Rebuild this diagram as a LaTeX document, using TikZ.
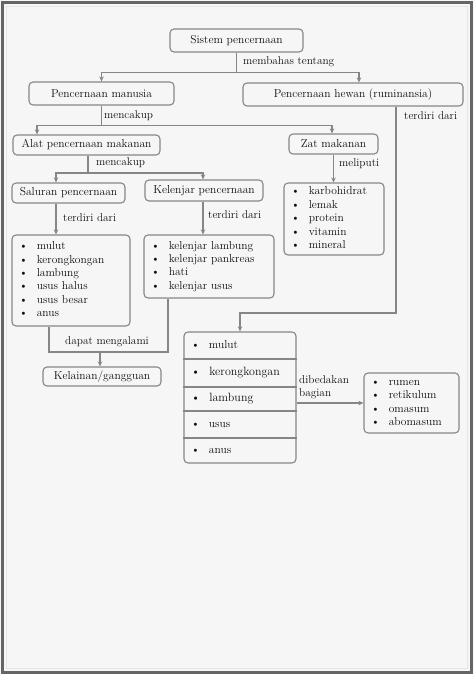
\documentclass[tikz,border=0pt]{standalone}
\usepackage{fontspec}
\usetikzlibrary{arrows.meta,calc}
\definecolor{bg}{HTML}{F6F6F6}
\definecolor{ln}{HTML}{868686}
\definecolor{fr}{HTML}{656565}
\definecolor{tx}{HTML}{101010}
\newcommand\itemrows[1]{{\fontsize{11.5}{13.4}\selectfont\begin{tabular}{@{}l@{\hspace{9pt}}l@{}}#1\end{tabular}}}
\begin{document}
\begin{tikzpicture}[x=1pt,y=-1pt,
  box/.style={draw=ln,line width=1.1pt,rounded corners=4pt,fill=bg,inner sep=2pt,
    font=\fontsize{11.5}{13}\selectfont,text=tx},
  lbox/.style={box,align=left,anchor=center},
  conn/.style={draw=ln,line width=1.1pt},
  arr/.style={conn,-{Stealth[length=5pt,width=4.5pt]}},
  lab/.style={font=\fontsize{11.3}{13}\selectfont,text=tx,inner sep=0pt},
  rowtx/.style={font=\fontsize{11.5}{13}\selectfont,text=tx,inner sep=0pt,anchor=west}]
\fill[bg] (0,0) rectangle (474,674);
\useasboundingbox (0,0) rectangle (474,674);
\draw[fr,line width=3pt] (2.5,2.5) rectangle (471.5,672);
\draw[white!80!gray,line width=0.8pt] (6.5,6.5) rectangle (467.5,668);

% title boxes
\node[box,minimum width=133pt,minimum height=23pt] (sis) at (236.5,40.5) {Sistem pencernaan};
\node[box,minimum width=145pt,minimum height=23pt] (man) at (101.5,93.5) {Pencernaan manusia};
\node[box,minimum width=220pt,minimum height=23pt] (hew) at (353,94.5) {Pencernaan hewan (ruminansia)};
\node[box,minimum width=147pt,minimum height=20pt] (alat) at (86.5,145) {Alat pencernaan makanan};
\node[box,minimum width=89pt,minimum height=20pt] (zat) at (333.5,144) {Zat makanan};
\node[box,minimum width=113pt,minimum height=20pt] (sal) at (68.5,193) {Saluran pencernaan};
\node[box,minimum width=118pt,minimum height=21pt] (kel) at (204,190.5) {Kelenjar pencernaan};
\node[box,minimum width=118pt,minimum height=19pt] (kelain) at (102,376.5) {Kelainan/gangguan};

% list boxes
\node[lbox,minimum height=72pt,text width=86pt,inner xsep=7pt] (zatl) at (334,219)
  {\itemrows{\textbullet & karbohidrat\\ \textbullet & lemak\\ \textbullet & protein\\ \textbullet & vitamin\\ \textbullet & mineral}};
\node[lbox,minimum height=91pt,text width=104pt,inner xsep=7pt] (sall) at (71,280.5)
  {\itemrows{\textbullet & mulut\\ \textbullet & kerongkongan\\ \textbullet & lambung\\ \textbullet & usus halus\\ \textbullet & usus besar\\ \textbullet & anus}};
\node[lbox,minimum height=63pt,text width=116pt,inner xsep=7pt] (kell) at (209,266.5)
  {\itemrows{\textbullet & kelenjar lambung\\ \textbullet & kelenjar pankreas\\ \textbullet & hati\\ \textbullet & kelenjar usus}};
\node[lbox,minimum height=60pt,text width=81pt,inner xsep=7pt] (rumen) at (411.5,403)
  {\itemrows{\textbullet & rumen\\ \textbullet & retikulum\\ \textbullet & omasum\\ \textbullet & abomasum}};

% ruminant digestive tract table
\node[box,minimum width=112pt,minimum height=131pt] (rum) at (240,397.5) {};
\coordinate (s1) at (0,359);
\coordinate (s2) at (0,387);
\coordinate (s3) at (0,411);
\coordinate (s4) at (0,438);
\foreach \s in {s1,s2,s3,s4}{\draw[conn] (rum.west |- \s) -- (rum.east |- \s);}
\node[rowtx] (r1) at (191,345) {\textbullet\hspace{9pt}mulut};
\node[rowtx,font=\fontsize{12}{13}\selectfont] (r2) at (191,373) {\textbullet\hspace{9pt}kerongkongan};
\node[rowtx,font=\fontsize{12}{13}\selectfont] (r3) at (191,399) {\textbullet\hspace{9pt}lambung};
\node[rowtx] (r4) at (191,424.5) {\textbullet\hspace{9pt}usus};
\node[rowtx] (r5) at (191,451) {\textbullet\hspace{9pt}anus};

% connectors
\coordinate (j1) at ($(sis.south)+(0,20)$);
\coordinate (hewin) at ($(hew.north)+(6,0)$);
\draw[conn] (sis.south) -- (j1);
\draw[arr] (j1) -| (man.north);
\draw[arr] (j1) -| (hewin);

\coordinate (j2) at ($(man.south)+(0,20)$);
\coordinate (alin) at ($(alat.north)+(-49.5,0)$);
\coordinate (zain) at ($(zat.north)+(-1.5,0)$);
\draw[conn] (man.south) -- (j2);
\draw[arr] (j2) -| (alin);
\draw[arr] (j2) -| (zain);

\coordinate (hs) at ($(hew.south)+(43,0)$);
\coordinate (hb) at (396,313);
\draw[arr] (hs) -- (hb) -| (rum.north);

\coordinate (as) at ($(alat.south)+(1.5,0)$);
\coordinate (j3) at (88,173);
\coordinate (salin) at ($(sal.north)+(-12.5,0)$);
\coordinate (kelin) at ($(kel.north)+(-1,0)$);
\draw[conn] (as) -- (j3);
\draw[arr] (j3) -| (salin);
\draw[arr] (j3) -| (kelin);

\draw[arr] (zat.south) -- (zat.south |- zatl.north);

\coordinate (ss) at ($(sal.south)+(-12.5,0)$);
\draw[arr] (ss) -- (ss |- sall.north);
\coordinate (ks) at ($(kel.south)+(-1,0)$);
\draw[arr] (ks) -- (ks |- kell.north);

\coordinate (sb) at ($(sall.south)+(-22,0)$);
\coordinate (kb) at ($(kell.south)+(-41,0)$);
\coordinate (j4) at (100,352);
\draw[conn] (sb) |- (j4) -- (kb |- j4) -- (kb);
\draw[arr] (j4) -- (j4 |- kelain.north);

\draw[arr] (rum.east |- rumen.west) -- (rumen.west);

% labels
\node[lab,anchor=west] (l1) at (243,62) {membahas tentang};
\node[lab,anchor=west] (l2) at (104,116) {mencakup};
\node[lab,anchor=west] (l3) at (404,116) {terdiri dari};
\node[lab,anchor=west] (l4) at (96,163) {mencakup};
\node[lab,anchor=west] (l5) at (339,164) {meliputi};
\node[lab,anchor=west] (l6) at (63,218) {terdiri dari};
\node[lab,anchor=west] (l7) at (208,215) {terdiri dari};
\node[lab,anchor=west] (l8) at (65,342) {dapat mengalami};
\node[lab,anchor=north west,align=left] (l9) at (299,375) {dibedakan\\bagian};
\end{tikzpicture}
\end{document}
